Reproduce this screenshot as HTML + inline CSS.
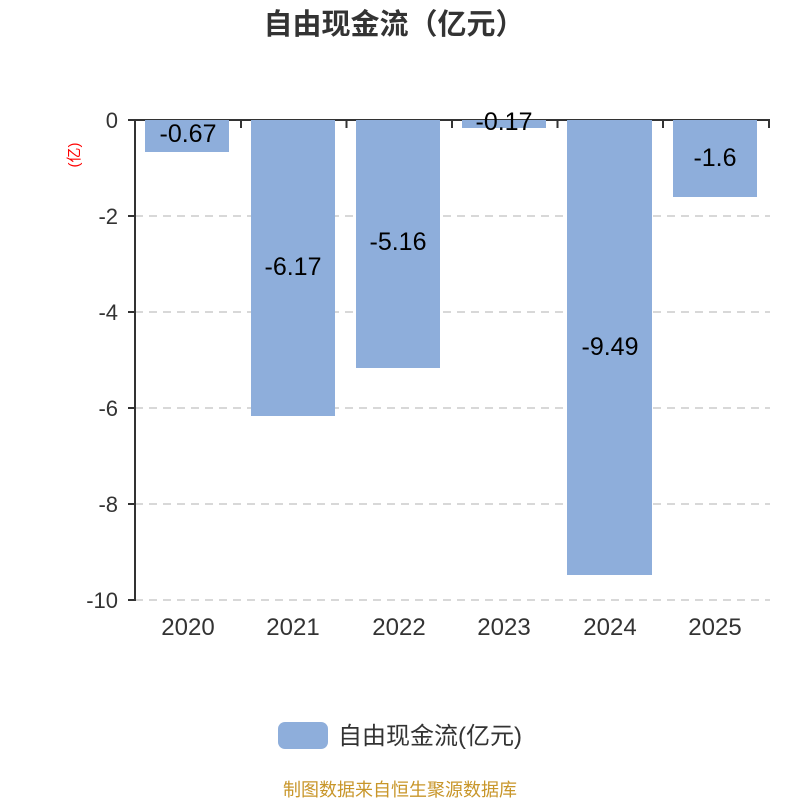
<!DOCTYPE html>
<html><head><meta charset="utf-8"><style>body{margin:0;background:#fff}svg{display:block}</style></head><body>
<svg width="800" height="800" xmlns="http://www.w3.org/2000/svg" font-family="'Liberation Sans','Noto Sans CJK SC',sans-serif">
<text x="394" y="34" text-anchor="middle" font-size="29" font-weight="bold" fill="#333">自由现金流（亿元）</text>
<text transform="translate(79,155) rotate(-90)" text-anchor="middle" font-size="15" fill="#f00">(亿)</text>
<g stroke="#ccc" stroke-width="1.5" stroke-dasharray="8,6">
<line x1="135" y1="216" x2="770" y2="216"/><line x1="135" y1="312" x2="770" y2="312"/>
<line x1="135" y1="408" x2="770" y2="408"/><line x1="135" y1="504" x2="770" y2="504"/>
<line x1="135" y1="600" x2="770" y2="600"/></g>
<g stroke="#333" stroke-width="2">
<line x1="128" y1="120" x2="770" y2="120"/><line x1="135" y1="120" x2="135" y2="601"/>
<line x1="241" y1="120" x2="241" y2="128"/><line x1="346.5" y1="120" x2="346.5" y2="128"/>
<line x1="452" y1="120" x2="452" y2="128"/><line x1="557.5" y1="120" x2="557.5" y2="128"/>
<line x1="663" y1="120" x2="663" y2="128"/><line x1="769" y1="120" x2="769" y2="128"/>
<line x1="128" y1="216" x2="135" y2="216"/><line x1="128" y1="312" x2="135" y2="312"/>
<line x1="128" y1="408" x2="135" y2="408"/><line x1="128" y1="504" x2="135" y2="504"/>
<line x1="128" y1="600" x2="135" y2="600"/></g>
<g fill="#8eaedb">
<rect x="145" y="120" width="84" height="32"/><rect x="251" y="120" width="84" height="296"/>
<rect x="356" y="120" width="84" height="248"/><rect x="462" y="120" width="84" height="8"/>
<rect x="567" y="120" width="85" height="455"/><rect x="673" y="120" width="84" height="77"/></g>
<g font-size="22" fill="#333" text-anchor="end">
<text x="118" y="128">0</text><text x="118" y="224">-2</text><text x="118" y="320">-4</text>
<text x="118" y="416">-6</text><text x="118" y="512">-8</text><text x="118" y="608">-10</text></g>
<g font-size="24" fill="#333" text-anchor="middle">
<text x="188" y="635">2020</text><text x="293" y="635">2021</text><text x="399" y="635">2022</text>
<text x="504" y="635">2023</text><text x="610" y="635">2024</text><text x="715" y="635">2025</text></g>
<g font-size="25" fill="#000" text-anchor="middle">
<text x="188" y="142">-0.67</text><text x="293" y="275">-6.17</text><text x="398" y="250">-5.16</text>
<text x="504" y="130">-0.17</text><text x="610" y="355">-9.49</text><text x="715" y="166">-1.6</text></g>
<rect x="278" y="722" width="50" height="27" rx="7" fill="#8eaedb"/>
<text x="338" y="744" font-size="24" fill="#333">自由现金流(亿元)</text>
<text x="400" y="796" text-anchor="middle" font-size="18" fill="#c8962a">制图数据来自恒生聚源数据库</text>
</svg>
</body></html>
